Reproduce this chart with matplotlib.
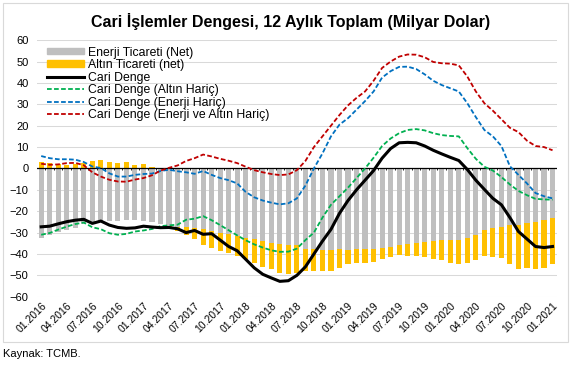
import numpy as np
import matplotlib
matplotlib.use("Agg")
import matplotlib.pyplot as plt
from matplotlib.patches import Patch, Rectangle
from matplotlib.lines import Line2D

plt.rcParams['font.family'] = ['Liberation Sans', 'DejaVu Sans']

# monthly, 01.2016 - 01.2021
months = [f"{m:02d}.{y}" for y in range(2016, 2022) for m in range(1, 13)][:61]
tick_labels = months[::3]

energy = [-32.4, -31.2, -29.9, -28.8, -27.7, -26.2, -25.4, -24.9, -24.6, -24.5,
          -24.1, -24.0, -24.6, -25.2, -26.2, -27.0, -27.3, -27.6, -28.0, -28.5,
          -29.3, -30.1, -30.8, -31.6, -32.4, -33.2, -34.0, -34.7, -35.5, -35.7,
          -35.8, -37.6, -37.9, -38.0, -38.0, -37.7, -38.0, -37.7, -37.7, -37.7,
          -37.1, -36.8, -35.8, -35.2, -34.9, -34.3, -34.1, -33.5, -33.3, -33.4,
          -32.4, -31.3, -28.8, -27.9, -27.5, -26.6, -26.6, -25.5, -25.0, -24.0,
          -23.1]
gold = [3.0, 2.6, 2.3, 1.8, 2.3, 2.6, 3.4, 3.9, 3.0, 2.6,
        3.0, 1.7, 2.2, 0.6, 0.2, -0.5, -1.9, -3.3, -4.9, -7.3,
        -7.8, -8.4, -8.9, -9.4, -10.0, -11.2, -12.0, -12.5, -13.5, -13.5,
        -13.2, -10.2, -9.9, -9.8, -9.8, -8.7, -6.7, -6.4, -6.4, -5.9,
        -5.3, -4.5, -4.7, -5.8, -6.1, -7.1, -8.3, -9.2, -10.9, -11.2,
        -11.9, -11.7, -12.2, -13.5, -14.2, -18.1, -20.4, -20.9, -22.0, -22.5,
        -21.5]
cari = [-27.3, -27.0, -25.9, -24.9, -24.2, -23.8, -25.7, -24.6, -26.5, -27.6,
        -28.0, -27.8, -27.0, -27.4, -27.7, -27.6, -28.2, -30.0, -29.0, -30.8,
        -30.5, -33.5, -36.5, -38.5, -42.5, -46.5, -49.5, -51.2, -52.8, -52.5,
        -50.0, -46.0, -40.0, -34.0, -28.5, -21.0, -15.0, -10.0, -5.5, -1.0,
        4.8, 9.3, 12.0, 12.2, 12.0, 10.5, 8.5, 6.8, 5.2, 3.7,
        -0.5, -5.5, -9.8, -14.0, -17.0, -23.0, -29.5, -33.0, -36.5, -37.0,
        -36.5]
altin_haric = [-31.0, -30.2, -28.6, -27.2, -26.0, -25.3, -27.5, -28.4, -30.3, -31.0,
               -30.6, -29.5, -29.0, -28.3, -27.0, -26.6, -26.3, -24.0, -23.5, -22.3,
               -24.2, -26.5, -28.9, -31.3, -33.6, -35.5, -37.0, -38.3, -39.0, -38.9,
               -37.5, -33.5, -30.0, -23.0, -17.0, -13.0, -9.0, -4.5, 0.0, 5.0,
               10.5, 14.0, 16.5, 18.0, 18.4, 17.8, 16.5, 15.6, 15.2, 15.0,
               9.5, 4.5, 0.8, -1.0, -4.0, -7.5, -10.5, -12.5, -14.2, -14.5,
               -14.6]
enerji_haric = [5.8, 4.8, 4.3, 4.3, 4.1, 3.0, 0.9, 0.2, -2.3, -3.8,
                -3.8, -3.0, -2.6, -2.4, -1.2, -0.6, -1.3, -1.8, -2.5, -1.2,
                -3.0, -4.5, -5.5, -7.0, -11.0, -13.5, -15.0, -16.0, -16.8, -16.3,
                -14.0, -8.0, 0.0, 7.0, 15.0, 20.5, 23.5, 27.5, 31.5, 36.0,
                42.5, 45.5, 47.5, 47.6, 46.5, 44.0, 41.0, 39.0, 37.5, 36.0,
                30.5, 24.0, 18.0, 15.0, 10.5, 1.0, -3.0, -7.0, -11.5, -13.0,
                -14.0]
enerji_altin_haric = [2.2, 1.7, 1.9, 2.5, 2.6, 1.5, -1.8, -3.8, -5.3, -6.1,
                      -6.2, -5.2, -4.5, -3.2, -1.0, 0.3, 1.4, 3.5, 4.8, 6.5,
                      5.6, 4.5, 3.6, 2.5, 0.8, -0.8, -1.8, -2.6, -3.1, -2.8,
                      -0.8, 3.5, 10.0, 15.0, 20.0, 25.0, 29.5, 33.0, 36.0, 41.0,
                      47.0, 50.0, 52.3, 53.3, 53.2, 52.0, 49.8, 49.2, 49.0, 48.2,
                      43.0, 36.0, 30.5, 27.0, 23.0, 19.0, 17.0, 13.0, 10.5, 10.0,
                      8.5]

c_grey = '#BFBFBF'
c_gold = '#FFC000'
c_green = '#00B050'
c_blue = '#0070C0'
c_red = '#C00000'

x = np.arange(len(months))
energy = np.array(energy)
gold = np.array(gold)
gold_bottom = np.where(gold >= 0, 0, energy)

fig = plt.figure(figsize=(5.77, 3.65), dpi=100)
ax = fig.add_axes([0.064, 0.187, 0.901, 0.703])

# outer chart border
fig.patches.append(Rectangle((0.006, 0.062), 0.978, 0.93, transform=fig.transFigure,
                             fill=False, edgecolor='#D9D9D9', lw=0.8))

ax.bar(x, energy, width=0.6, color=c_grey, zorder=2)
ax.bar(x, gold, bottom=gold_bottom, width=0.6, color=c_gold, zorder=2)
ax.axhline(0, color='black', lw=0.9, zorder=3)
ax.vlines(x[:-1] + 0.5, -0.9, 0, color='black', lw=0.6, zorder=3)

dash = (2.6, 1.3)
ax.plot(x, cari, color='black', lw=2.2, zorder=5)
ax.plot(x, altin_haric, color=c_green, lw=1.3, dashes=dash, zorder=4)
ax.plot(x, enerji_haric, color=c_blue, lw=1.3, dashes=dash, zorder=4)
ax.plot(x, enerji_altin_haric, color=c_red, lw=1.3, dashes=dash, zorder=4)

ax.set_xlim(-0.5, len(months) - 0.5)
ax.set_ylim(-60, 60)
ax.set_yticks(range(-60, 61, 10))
ax.grid(axis='y', color='#D9D9D9', lw=0.75, zorder=0)
ax.set_axisbelow(True)
for s in ax.spines.values():
    s.set_visible(False)
ax.tick_params(axis='y', length=0, labelsize=8, pad=6)
ax.set_xticks(x[::3])
ax.set_xticklabels(tick_labels, rotation=45, ha='right', rotation_mode='anchor', fontsize=7.5)
ax.tick_params(axis='x', length=0, pad=3)

fig.text(0.503, 0.94, 'Cari İşlemler Dengesi, 12 Aylık Toplam (Milyar Dolar)',
         ha='center', va='center', fontsize=11.5, fontweight='bold')
fig.text(0.005, 0.03, 'Kaynak: TCMB.', ha='left', va='center', fontsize=8)

handles = [
    Patch(color=c_grey, label='Enerji Ticareti (Net)'),
    Patch(color=c_gold, label='Altın Ticareti (net)'),
    Line2D([], [], color='black', lw=2.2, label='Cari Denge'),
    Line2D([], [], color=c_green, lw=1.3, dashes=dash, label='Cari Denge (Altın Hariç)'),
    Line2D([], [], color=c_blue, lw=1.3, dashes=dash, label='Cari Denge (Enerji Hariç)'),
    Line2D([], [], color=c_red, lw=1.3, dashes=dash, label='Cari Denge (Enerji ve Altın Hariç)'),
]
ax.legend(handles=handles, loc='upper left', bbox_to_anchor=(0.02, 0.975),
          frameon=False, fontsize=8.8, handlelength=3.0, handleheight=0.45,
          handletextpad=0.3, labelspacing=0.04, borderaxespad=0, borderpad=0)

fig.savefig('out.png', dpi=100)
